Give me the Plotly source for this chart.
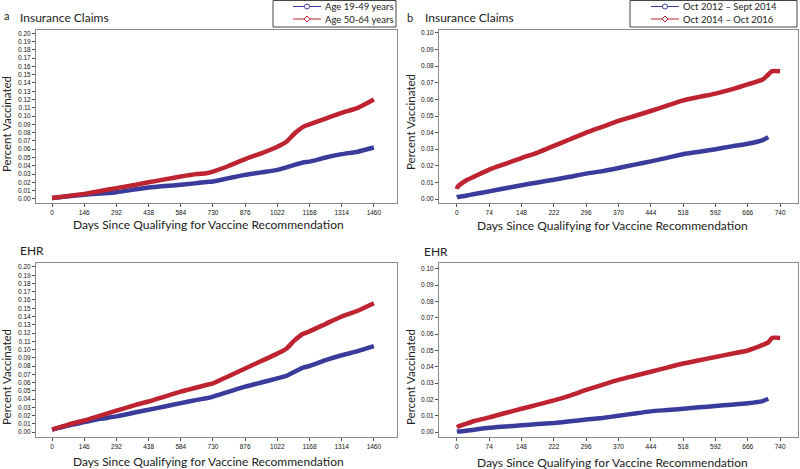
import plotly.graph_objects as go

# ---------------- data ----------------
# panel a: age groups, 0..1460 days
days_a = [0, 73, 146, 219, 292, 380, 438, 511, 584, 657, 700, 730, 803, 876, 949, 1022, 1063,
          1100, 1139, 1168, 1241, 1314, 1387, 1460]
ins_age_young = [0.001, 0.003, 0.005, 0.0065, 0.008, 0.0115, 0.0137, 0.0155, 0.017, 0.019, 0.0205, 0.021,
                 0.025, 0.029, 0.032, 0.035, 0.038, 0.041, 0.044, 0.045, 0.050, 0.054, 0.057, 0.062]
ins_age_old = [0.001, 0.0035, 0.006, 0.0095, 0.013, 0.017, 0.020, 0.0235, 0.027, 0.030, 0.031, 0.033,
               0.040, 0.048, 0.055, 0.063, 0.069, 0.079, 0.087, 0.090, 0.097, 0.104, 0.110, 0.120]
ehr_age_young = [0.003, 0.008, 0.012, 0.016, 0.019, 0.024, 0.027, 0.031, 0.035, 0.039, 0.041, 0.043,
                 0.049, 0.055, 0.060, 0.065, 0.068, 0.073, 0.078, 0.080, 0.087, 0.093, 0.098, 0.104]
ehr_age_old = [0.003, 0.009, 0.014, 0.020, 0.026, 0.033, 0.037, 0.043, 0.049, 0.054, 0.057, 0.059,
               0.068, 0.077, 0.086, 0.095, 0.101, 0.111, 0.119, 0.122, 0.131, 0.140, 0.147, 0.156]

# panel b: time periods, 0..740 days
days_b = [0, 2, 20, 40, 74, 111, 148, 185, 222, 259, 296, 333, 370, 407, 444, 481, 518, 555,
          592, 629, 666, 700, 713, 722, 740]
ins_per_early = [0.001, 0.0012, 0.002, 0.003, 0.0046, 0.0065, 0.0083, 0.010, 0.0116, 0.0134, 0.0153,
                 0.0168, 0.0187, 0.0207, 0.0227, 0.0248, 0.027, 0.0285, 0.030, 0.0317, 0.0333, 0.0355,
                 0.0373, None, None]
ins_per_late = [0.006, 0.0075, 0.011, 0.0135, 0.0177, 0.0212, 0.0247, 0.028, 0.032, 0.036, 0.040,
                0.0435, 0.047, 0.050, 0.053, 0.0562, 0.0594, 0.0615, 0.0635, 0.066, 0.069, 0.072,
                0.075, 0.077, 0.077]
ehr_per_early = [0.0002, 0.0003, 0.0008, 0.0015, 0.0026, 0.0034, 0.0042, 0.0049, 0.0056, 0.0066,
                 0.0077, 0.0087, 0.010, 0.0114, 0.0127, 0.0135, 0.0143, 0.0152, 0.016, 0.0168,
                 0.0177, 0.019, 0.0204, None, None]
ehr_per_late = [0.003, 0.0033, 0.005, 0.0068, 0.009, 0.0117, 0.0143, 0.0168, 0.0194, 0.0224, 0.0258,
                0.029, 0.032, 0.0345, 0.037, 0.0395, 0.042, 0.044, 0.046, 0.048, 0.050, 0.0534,
                0.055, 0.0577, 0.0577]

legend_a = ["Age 19-49 years", "Age 50-64 years"]
legend_b = ["Oct 2012 \u2013 Sept 2014", "Oct 2014 \u2013 Oct 2016"]

BLUE = "#3a3c9c"
RED = "#bd2330"
W, H = 800, 469


def px(x):
    return x / W


def py(y):
    return 1 - y / H


fig = go.Figure()

panels = [
    # (xaxis, yaxis, days, blue, red)
    ("x", "y", days_a, ins_age_young, ins_age_old),
    ("x2", "y2", days_b, ins_per_early, ins_per_late),
    ("x3", "y3", days_a, ehr_age_young, ehr_age_old),
    ("x4", "y4", days_b, ehr_per_early, ehr_per_late),
]
for xa, ya, d, b, r in panels:
    fig.add_trace(go.Scatter(x=d, y=b, mode="lines", xaxis=xa, yaxis=ya, showlegend=False,
                             line=dict(color=BLUE, width=4.5, shape="spline", smoothing=0.6)))
    fig.add_trace(go.Scatter(x=d, y=r, mode="lines", xaxis=xa, yaxis=ya, showlegend=False,
                             line=dict(color=RED, width=4.5, shape="spline", smoothing=0.6)))

tickfont = dict(family="Liberation Sans", size=6.5, color="#111")
frame = dict(showline=True, mirror=True, linecolor="#8a8a8a", linewidth=1, ticks="outside",
             ticklen=3, tickcolor="#555", showgrid=False, zeroline=False, tickfont=tickfont)

days_ticks_a = list(range(0, 1461, 146))
days_ticks_b = list(range(0, 741, 74))

left_dom = [px(36), px(397)]
right_dom = [px(439), px(798)]
top_dom = [py(203), py(30)]
bot_dom = [py(437), py(263)]

fig.update_layout(
    xaxis=dict(domain=left_dom, anchor="y", range=[-73, 1565], tickvals=days_ticks_a, **frame),
    yaxis=dict(domain=top_dom, anchor="x", range=[-0.005, 0.204], tickvals=[i / 100 for i in range(21)],
               tickformat=".2f", **frame),
    xaxis2=dict(domain=right_dom, anchor="y2", range=[-41, 781], tickvals=days_ticks_b, **frame),
    yaxis2=dict(domain=top_dom, anchor="x2", range=[-0.0024, 0.1018], tickvals=[i / 100 for i in range(11)],
                tickformat=".2f", **frame),
    xaxis3=dict(domain=left_dom, anchor="y3", range=[-73, 1565], tickvals=days_ticks_a, **frame),
    yaxis3=dict(domain=bot_dom, anchor="x3", range=[-0.006, 0.2048], tickvals=[i / 100 for i in range(21)],
                tickformat=".2f", **frame),
    xaxis4=dict(domain=right_dom, anchor="y4", range=[-41, 781], tickvals=days_ticks_b, **frame),
    yaxis4=dict(domain=bot_dom, anchor="x4", range=[-0.003, 0.1036], tickvals=[i / 100 for i in range(11)],
                tickformat=".2f", **frame),
    width=W, height=H,
    margin=dict(l=0, r=0, t=0, b=0),
    plot_bgcolor="white", paper_bgcolor="white",
    font=dict(family="Lato", color="#222"),
    showlegend=False,
)


def note(txt, x, y, size, xanchor="left", angle=0):
    fig.add_annotation(text=txt, x=px(x), y=py(y), xref="paper", yref="paper", xanchor=xanchor,
                       yanchor="middle", showarrow=False, textangle=angle, borderpad=0,
                       font=dict(size=size, color="#222"))


# panel labels and titles
note("a", 3, 16, 11)
note("Insurance Claims", 19, 17, 12)
note("b", 406, 17, 11)
note("Insurance Claims", 424, 18, 12)
note("EHR", 19, 250, 12)
note("EHR", 423, 251, 12)

xtitle = "Days Since Qualifying for Vaccine Recommendation"
for x, y in [(208, 224), (612, 225), (208, 461), (612, 462)]:
    note(xtitle, x, y, 12, xanchor="center")
for x, y in [(6, 124), (410, 122), (6, 377), (410, 377)]:
    note("Percent Vaccinated", x, y, 11.5, xanchor="center", angle=-90)


# boxed legends drawn like the SAS ones: thin line, open marker, label
def legend_box(names, x0, x1, lx0, lx1, tx):
    fig.add_shape(type="rect", xref="paper", yref="paper", x0=px(x0), x1=px(x1), y0=py(27), y1=py(0.5),
                  line=dict(color="#444", width=1), fillcolor="white")
    for i, (name, col) in enumerate(zip(names, [BLUE, RED])):
        yy = 6.5 + 12.5 * i
        fig.add_shape(type="line", xref="paper", yref="paper", x0=px(lx0), x1=px(lx1), y0=py(yy), y1=py(yy),
                      line=dict(color=col, width=1))
        mx = (lx0 + lx1) / 2
        if i == 0:
            fig.add_shape(type="circle", xref="paper", yref="paper", x0=px(mx - 2.5), x1=px(mx + 2.5),
                          y0=py(yy + 2.5), y1=py(yy - 2.5), line=dict(color=col, width=1), fillcolor="white")
        else:
            path = "M {0},{1} L {2},{3} L {0},{4} L {5},{3} Z".format(
                px(mx), py(yy - 3), px(mx + 3), py(yy), py(yy + 3), px(mx - 3))
            fig.add_shape(type="path", xref="paper", yref="paper", path=path,
                          line=dict(color=col, width=1), fillcolor="white")
        note(name, tx, yy, 9.5)


legend_box(legend_a, 273, 396, 293, 321, 324)
legend_box(legend_b, 630, 797, 651, 679, 682)

fig.write_html("out.html", config={"displayModeBar": False},
               post_script="document.body.style.margin='0';")
